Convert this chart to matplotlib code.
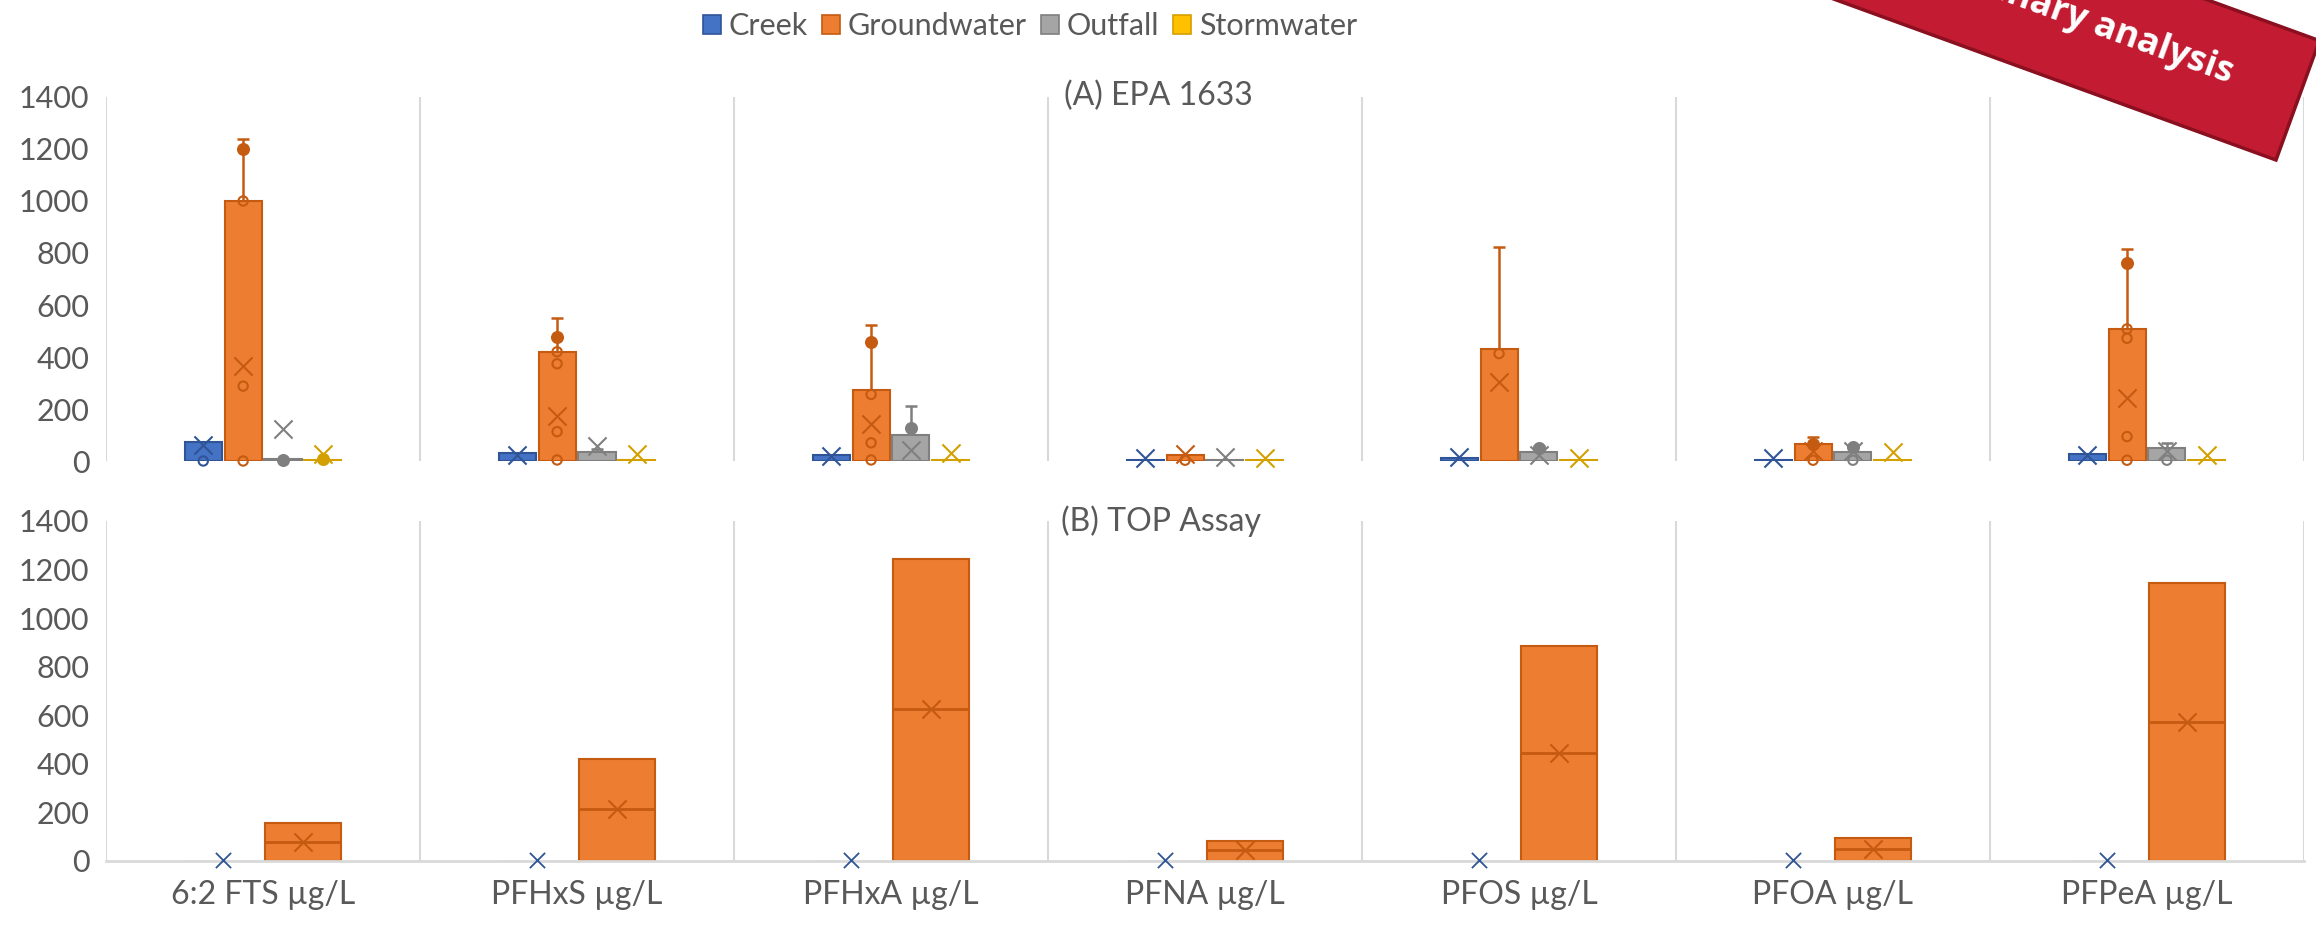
import numpy as np
import matplotlib
matplotlib.use('Agg')
import matplotlib.pyplot as plt
from matplotlib.patches import Patch, Polygon

plt.rcParams['font.family'] = ['Lato', 'DejaVu Sans']

categories = ['6:2 FTS µg/L', 'PFHxS µg/L', 'PFHxA µg/L', 'PFNA µg/L',
              'PFOS µg/L', 'PFOA µg/L', 'PFPeA µg/L']
series = ['Creek', 'Groundwater', 'Outfall', 'Stormwater']

# (A) EPA 1633 -- box top, mean, whisker top, inner points, outlier dots
creek_hi = [75, 32, 23, 5, 10, 5, 26]
creek_mean = [60, 23, 19, 13, 15, 13, 23]
creek_whisk = [None] * 7
creek_pts = [[0], [], [], [], [], [], []]
creek_dots = [[], [], [], [], [], [], []]

gw_hi = [1000, 420, 272, 23, 430, 67, 508]
gw_mean = [365, 173, 141, 26, 305, 38, 241]
gw_whisk = [1237, 551, 523, None, 824, 92, 814]
gw_pts = [[0, 288, 1000], [4, 113, 374, 420], [4, 70, 256], [3], [413], [3],
          [3, 94, 472, 508]]
gw_dots = [[1201], [477], [459], [], [], [67], [763]]

out_hi = [8, 35, 100, 5, 35, 35, 51]
out_mean = [122, 58, 41, 15, 23, 38, 38]
out_whisk = [None, 45, 211, None, 58, 61, 70]
out_pts = [[], [], [], [], [], [3], [3]]
out_dots = [[5], [], [128], [], [51], [54], []]

storm_hi = [3, 3, 3, 3, 3, 3, 3]
storm_mean = [28, 26, 32, 13, 13, 36, 23]
storm_whisk = [None] * 7
storm_pts = [[], [], [], [], [], [], []]
storm_dots = [[6], [], [], [], [], [], []]

# (B) TOP Assay
top_creek_hi = [2, 2, 2, 2, 2, 2, 2]
top_creek_mean = [5, 5, 5, 5, 5, 5, 5]
top_gw_hi = [155, 421, 1244, 82, 885, 96, 1143]
top_gw_median = [78, 214, 626, 45, 444, 49, 574]
top_gw_mean = [78, 214, 626, 45, 444, 49, 574]

face = {'Creek': '#4472C4', 'Groundwater': '#ED7D31',
        'Outfall': '#A5A5A5', 'Stormwater': '#FFC000'}
edge = {'Creek': '#2F5597', 'Groundwater': '#C55A11',
        'Outfall': '#7F7F7F', 'Stormwater': '#D4A000'}
TXT = '#595959'
GRID = '#D9D9D9'

fig = plt.figure(figsize=(23.16, 9.3), dpi=100)
ax1 = fig.add_axes([0.0458, 0.5043, 0.949, 0.3914])
ax2 = fig.add_axes([0.0458, 0.0742, 0.949, 0.3656])

x = np.arange(len(categories))


def style(ax, show_base):
    ax.set_xlim(-0.5, len(categories) - 0.5)
    ax.set_ylim(0, 1400)
    ax.set_yticks(np.arange(0, 1401, 200))
    ax.set_xticks(np.arange(len(categories) + 1) - 0.5, minor=True)
    ax.grid(which='minor', axis='x', color=GRID, lw=1.5)
    ax.tick_params(which='both', length=0)
    ax.tick_params(axis='y', labelsize=22, labelcolor=TXT, pad=12)
    for s in ['top', 'right', 'left']:
        ax.spines[s].set_visible(False)
    ax.spines['bottom'].set_visible(show_base)
    ax.spines['bottom'].set_color(GRID)
    ax.spines['bottom'].set_linewidth(2)
    ax.set_axisbelow(True)


def draw_boxes(ax, pos, hi, mean, whisk, pts, dots, name, width):
    ax.bar(pos, hi, width=width, color=face[name], edgecolor=edge[name],
           linewidth=1.5, zorder=2)
    for p, top, w in zip(pos, hi, whisk):
        if w is None:
            continue
        ax.vlines(p, top, w, color=edge[name], lw=1.8, zorder=3)
        ax.hlines(w, p - 0.02, p + 0.02, color=edge[name], lw=1.8, zorder=3)
    for p, vals in zip(pos, pts):
        if vals:
            ax.scatter([p] * len(vals), vals, s=45, facecolor='none',
                       edgecolor=edge[name], lw=1.5, zorder=4, clip_on=False)
    for p, vals in zip(pos, dots):
        if vals:
            ax.scatter([p] * len(vals), vals, s=70, color=edge[name],
                       zorder=4, clip_on=False)
    ax.scatter(pos, mean, marker='x', s=170, color=edge[name], lw=1.5,
               zorder=5, clip_on=False)


style(ax1, False)
style(ax2, True)
ax1.set_xticks(x)
ax1.set_xticklabels([])
ax2.set_xticks(x)
ax2.set_xticklabels(categories, fontsize=23, color=TXT)
ax2.tick_params(axis='x', pad=14)

sp, bw = 0.127, 0.118
groups = [
    ('Creek', creek_hi, creek_mean, creek_whisk, creek_pts, creek_dots),
    ('Groundwater', gw_hi, gw_mean, gw_whisk, gw_pts, gw_dots),
    ('Outfall', out_hi, out_mean, out_whisk, out_pts, out_dots),
    ('Stormwater', storm_hi, storm_mean, storm_whisk, storm_pts, storm_dots),
]
for i, (name, hi, mean, whisk, pts, dots) in enumerate(groups):
    pos = x + (i - 1.5) * sp
    draw_boxes(ax1, pos, hi, mean, whisk, pts, dots, name, bw)

# bottom panel: two series only
sp2, bw2 = 0.255, 0.24
pos_c = x - sp2 / 2
pos_g = x + sp2 / 2
ax2.bar(pos_c, top_creek_hi, width=bw2, color='#8FAADC', edgecolor='#8FAADC',
        linewidth=1, zorder=2)
ax2.scatter(pos_c, top_creek_mean, marker='x', s=120, color=edge['Creek'],
            lw=1.3, zorder=5, clip_on=False)
ax2.bar(pos_g, top_gw_hi, width=bw2, color=face['Groundwater'],
        edgecolor=edge['Groundwater'], linewidth=1.5, zorder=2)
ax2.hlines(top_gw_median, pos_g - bw2 / 2, pos_g + bw2 / 2,
           color=edge['Groundwater'], lw=2, zorder=3)
ax2.scatter(pos_g, top_gw_mean, marker='x', s=170, color=edge['Groundwater'],
            lw=1.5, zorder=5)

fig.text(1158 / 2316, 1 - 96 / 930, '(A) EPA 1633', fontsize=23, color=TXT,
         ha='center', va='center')
fig.text(1161 / 2316, 1 - 521 / 930, '(B) TOP Assay', fontsize=23, color=TXT,
         ha='center', va='center')

handles = [Patch(facecolor=face[s], edgecolor=edge[s], lw=1.2) for s in series]
fig.legend(handles, series, loc='center', bbox_to_anchor=(1030 / 2316, 1 - 26 / 930),
           ncol=4, frameon=False, fontsize=22, labelcolor=TXT,
           handlelength=0.6, handleheight=0.6, handletextpad=0.25,
           columnspacing=0.45)

# "Preliminary analysis" banner in the top right corner
W, H = 2316, 930
ang = np.deg2rad(20)
u = np.array([-np.cos(ang), -np.sin(ang)])
n = np.array([np.sin(ang), -np.cos(ang)])
br = np.array([2276, 160])
tr = br + 127 * n
bl = br + 900 * u
tl = tr + 900 * u
corners = [(px / W, 1 - py / H) for px, py in [bl, br, tr, tl]]
fig.add_artist(Polygon(corners, closed=True, transform=fig.transFigure,
                       facecolor='#C21B32', edgecolor='#8A1020', lw=2.5,
                       zorder=10))
fig.text(2229 / W, 1 - 83 / H, 'Preliminary analysis', rotation=-20,
         rotation_mode='anchor', ha='right', va='baseline', color='white',
         fontweight='bold', fontsize=26, family=['Open Sans', 'DejaVu Sans'],
         zorder=11)

fig.savefig('out.png', dpi=100)
